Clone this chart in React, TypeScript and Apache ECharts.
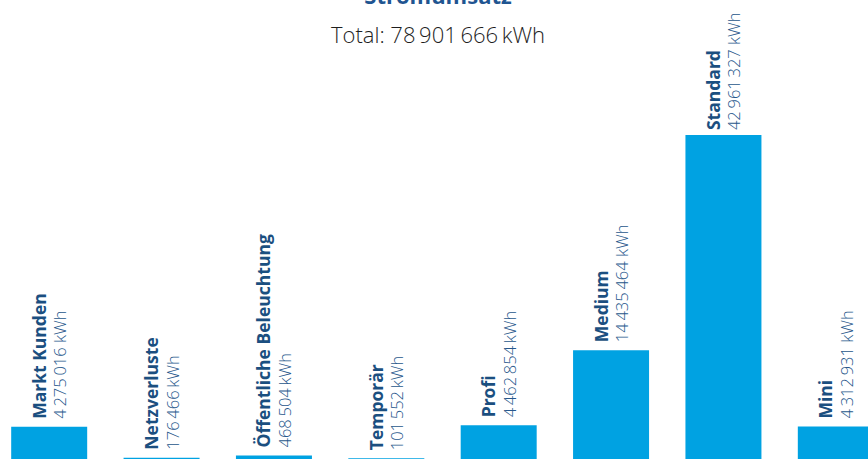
import React, { useEffect, useRef } from "react";
import * as echarts from "echarts";

const categories = [
  "Markt Kunden",
  "Netzverluste",
  "Öffentliche Beleuchtung",
  "Temporär",
  "Profi",
  "Medium",
  "Standard",
  "Mini",
];
const values = [4275016, 176466, 468504, 101552, 4462854, 14435464, 42961327, 4312931];
const valueLabels = [
  "4\u2009275\u2009016 kWh",
  "176\u2009466\u2009kWh",
  "468\u2009504\u2009kWh",
  "101\u2009552\u2009kWh",
  "4\u2009462\u2009854\u2009kWh",
  "14\u2009435\u2009464 kWh",
  "42\u2009961\u2009327 kWh",
  "4\u2009312\u2009931 kWh",
];
const titleText = "Stromumsatz";
const totalText = "Total: 78\u2009901\u2009666\u2009kWh";

const FONT = "'Open Sans', 'Noto Sans', sans-serif";

export default function App() {
  const ref = useRef<HTMLDivElement>(null);
  useEffect(() => {
    if (!ref.current) return;
    const chart = echarts.init(ref.current, null, { renderer: "svg" });
    chart.setOption({
      animation: false,
      title: [
        {
          text: titleText,
          left: 445,
          textAlign: "center",
          top: -16,
          padding: 0,
          textStyle: { fontFamily: FONT, fontSize: 22, fontWeight: "bold", color: "#1f5591" },
        },
        {
          text: totalText,
          left: 445,
          textAlign: "center",
          top: 23,
          padding: 0,
          textStyle: { fontFamily: FONT, fontSize: 22, fontWeight: 300, color: "#1e1e1e" },
        },
      ],
      grid: { left: 0, right: 0, top: 82, bottom: 0, containLabel: false },
      xAxis: {
        type: "category",
        data: categories,
        axisLine: { show: false },
        axisTick: { show: false },
        axisLabel: { show: false },
      },
      yAxis: {
        type: "value",
        min: 0,
        max: 50000000,
        show: false,
        splitLine: { show: false },
      },
      series: [
        {
          type: "bar",
          barWidth: 76,
          itemStyle: { color: "#00a2e2" },
          data: values.map((v, i) => ({
            value: v,
            label: { distance: categories[i] === "Standard" ? 5 : 8 },
          })),
          label: {
            show: true,
            position: "top",
            rotate: 90,
            align: "left",
            verticalAlign: "middle",
            distance: 8,
            formatter: (p: any) => `{n|${categories[p.dataIndex]}}\n{v|${valueLabels[p.dataIndex]}}`,
            rich: {
              n: { fontFamily: FONT, fontSize: 17.5, fontWeight: "bold", color: "#1b4f80", lineHeight: 21 },
              v: { fontFamily: FONT, fontSize: 16.5, fontWeight: 300, color: "#27578c", lineHeight: 21 },
            },
          },
        },
      ],
    });
    return () => chart.dispose();
  }, []);
  return (
    <div
      ref={ref}
      style={{ position: "fixed", left: -7, top: 0, width: 899, height: 459, background: "#fff" }}
    />
  );
}
